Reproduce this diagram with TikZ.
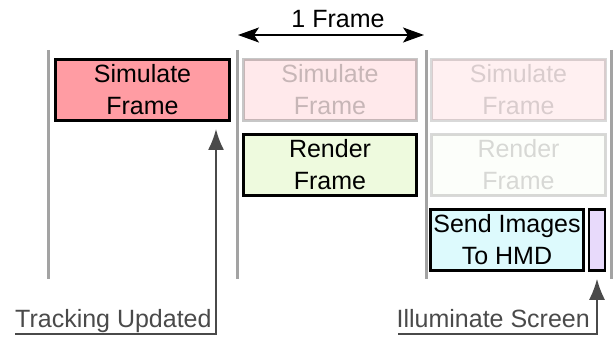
\documentclass[tikz,border=0pt]{standalone}
\usepackage{fontspec}
\setmainfont{Liberation Sans}
\usetikzlibrary{arrows.meta}

\definecolor{simfill}{HTML}{FF9CA3}
\definecolor{renfill}{HTML}{EEFADE}
\definecolor{sendfill}{HTML}{DDFAFD}
\definecolor{litfill}{HTML}{E8DAFB}
\definecolor{divider}{HTML}{A3A3A3}
\definecolor{labelgray}{HTML}{4A4A4A}

\tikzset{
  task/.style={draw=black, line width=2.6pt, inner sep=0pt, align=center,
    minimum height=61pt, font=\fontsize{25}{32}\selectfont},
  ghostA/.style={opacity=0.22},
  ghostB/.style={opacity=0.15},
  divline/.style={draw=divider, line width=3pt},
  labeltext/.style={text=labelgray, inner sep=0pt, font=\fontsize{25}{28}\selectfont},
  labelline/.style={draw=labelgray, line width=1.8pt,
    -{Latex[length=21pt,width=16pt]}},
}

\begin{document}
\begin{tikzpicture}[x=1pt, y=-1pt]
  \useasboundingbox (0,0) rectangle (614,337);

  % frame boundaries
  \coordinate (d1t) at (48,50);  \coordinate (d1b) at (48,279);
  \coordinate (d2t) at (237,50); \coordinate (d2b) at (237,279);
  \coordinate (d3t) at (426,50); \coordinate (d3b) at (426,279);
  \coordinate (d4t) at (611,50); \coordinate (d4b) at (611,279);
  \draw[divline] (d1t) -- (d1b);
  \draw[divline] (d2t) -- (d2b);
  \draw[divline] (d3t) -- (d3b);
  \draw[divline] (d4t) -- (d4b);

  % frame length
  \node[font=\fontsize{25}{28}\selectfont, anchor=base] (flab) at (338,28) {1 Frame};
  \coordinate (fa) at (238,35);
  \coordinate (fb) at (424,35);
  \draw[line width=2pt, {Stealth[length=21pt,width=15pt,inset=5pt]}-{Stealth[length=21pt,width=15pt,inset=5pt]}] (fa) -- (fb);

  % pipeline stages
  \node[task, fill=simfill, minimum width=174pt] (sim1) at (142.5,90) {Simulate\\Frame};
  \node[task, fill=simfill, minimum width=173pt, ghostA] (sim2) at (330,90) {Simulate\\Frame};
  \node[task, fill=simfill, minimum width=174pt, ghostB] (sim3) at (518.5,90) {Simulate\\Frame};
  \node[task, fill=renfill, minimum width=173pt] (ren2) at (330,165) {Render\\Frame};
  \node[task, fill=renfill, minimum width=174pt, ghostB] (ren3) at (518.5,165) {Render\\Frame};
  \node[task, fill=sendfill, minimum width=153pt] (send) at (507,240) {Send Images\\To HMD};
  \node[task, fill=litfill, minimum width=16pt] (illum) at (597,240) {};

  % event labels
  \node[labeltext, anchor=base west] (track) at (15,327) {Tracking Updated};
  \coordinate (trackA) at (15,334);
  \coordinate (trackTip) at (216,129);
  \draw[labelline] (trackA) -| (trackTip);

  \node[labeltext, anchor=base east] (ilab) at (590,327) {Illuminate Screen};
  \coordinate (ilA) at (398,334);
  \draw[labelline] (ilA) -| ([yshift=-7pt]illum.south);
\end{tikzpicture}
\end{document}
